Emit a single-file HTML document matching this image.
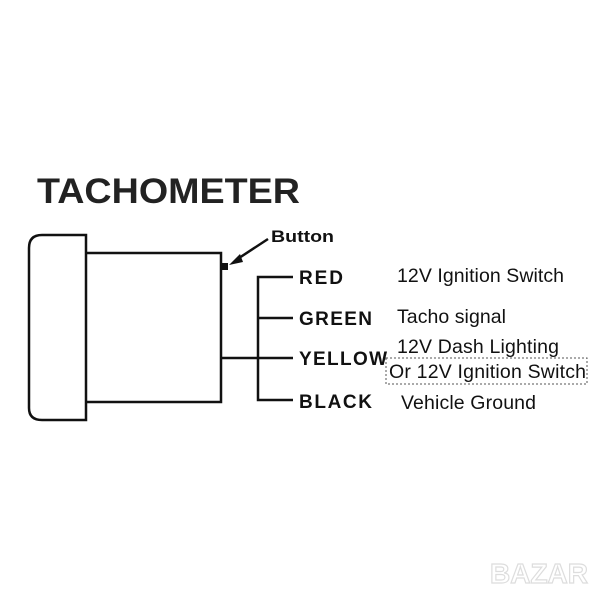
<!DOCTYPE html>
<html><head><style>
body{margin:0;background:#fff;}
</style></head><body>
<svg width="600" height="600" xmlns="http://www.w3.org/2000/svg" style="display:block">
<rect width="600" height="600" fill="#fff"/>
<text x="37" y="203" font-family="Liberation Sans, sans-serif" font-weight="bold" font-size="35" fill="#222" textLength="263" lengthAdjust="spacingAndGlyphs">TACHOMETER</text>
<path d="M86,235 H42 Q29,235 29,248 V408 Q29,420 42,420 H86 Z" fill="none" stroke="#111" stroke-width="2.5"/>
<path d="M87,253 H221 V402 H87" fill="none" stroke="#111" stroke-width="2.5"/>
<rect x="222" y="263" width="6" height="7" fill="#111"/>
<line x1="268" y1="239" x2="236" y2="260" stroke="#111" stroke-width="2.5"/>
<polygon points="229,265 240,254 243,262" fill="#111"/>
<text x="271" y="242" font-family="Liberation Sans, sans-serif" font-weight="bold" font-size="17" fill="#111" textLength="63" lengthAdjust="spacingAndGlyphs">Button</text>
<path d="M293,277 H258 V400 H293 M258,318 H293 M221,358 H293" fill="none" stroke="#111" stroke-width="2.5"/>
<g font-family="Liberation Sans, sans-serif" font-weight="bold" font-size="19" fill="#111" lengthAdjust="spacingAndGlyphs">
<text x="299" y="284" textLength="44">RED</text>
<text x="299" y="325" textLength="73">GREEN</text>
<text x="299" y="365" textLength="88">YELLOW</text>
<text x="299" y="408" textLength="73">BLACK</text>
</g>
<g font-family="Liberation Sans, sans-serif" font-size="19.5" fill="#111" lengthAdjust="spacingAndGlyphs">
<text x="397" y="282" textLength="167">12V Ignition Switch</text>
<text x="397" y="323" textLength="109">Tacho signal</text>
<text x="397" y="353" textLength="162">12V Dash Lighting</text>
<text x="389" y="378" textLength="197">Or 12V Ignition Switch</text>
<text x="401" y="409" textLength="135">Vehicle Ground</text>
</g>
<rect x="386" y="358" width="201" height="26" fill="none" stroke="#555" stroke-width="1" stroke-dasharray="2,2"/>
<text x="490" y="583" font-family="Liberation Sans, sans-serif" font-weight="bold" font-size="28" fill="#fff" stroke="#ddd" stroke-width="1.2">BAZAR</text>
</svg>
</body></html>
